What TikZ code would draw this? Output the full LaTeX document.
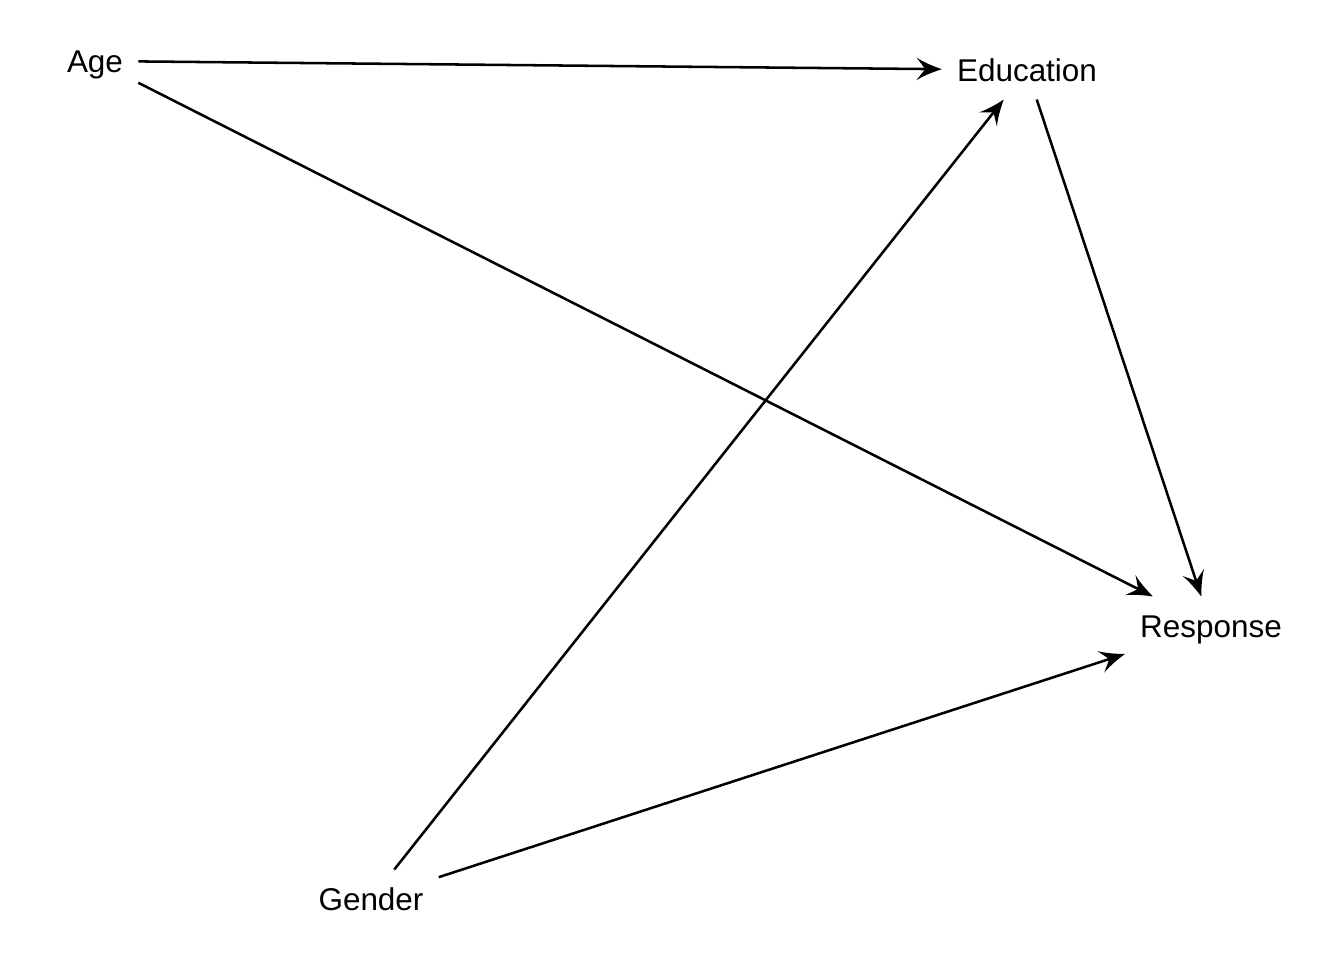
\documentclass[tikz,border=0pt]{standalone}
\usepackage{fontspec}
\setmainfont{Liberation Sans}
\usetikzlibrary{arrows.meta}
\pgfdeclarearrow{
  name=CurvedStealth,
  parameters={\the\pgfarrowlength,\the\pgfarrowwidth},
  setup code={
    \pgfarrowssettipend{0pt}
    \pgfarrowssetlineend{-0.5\pgfarrowlength}
    \pgfarrowssetbackend{-\pgfarrowlength}
    \pgfarrowssavethe\pgfarrowlength
    \pgfarrowssavethe\pgfarrowwidth
  },
  drawing code={
    \pgfpathmoveto{\pgfpoint{0pt}{0pt}}
    \pgfpathcurveto{\pgfpoint{-0.4\pgfarrowlength}{0.15\pgfarrowwidth}}{\pgfpoint{-0.75\pgfarrowlength}{0.32\pgfarrowwidth}}{\pgfpoint{-\pgfarrowlength}{0.5\pgfarrowwidth}}
    \pgfpathlineto{\pgfpoint{-0.65\pgfarrowlength}{0pt}}
    \pgfpathlineto{\pgfpoint{-\pgfarrowlength}{-0.5\pgfarrowwidth}}
    \pgfpathcurveto{\pgfpoint{-0.75\pgfarrowlength}{-0.32\pgfarrowwidth}}{\pgfpoint{-0.4\pgfarrowlength}{-0.15\pgfarrowwidth}}{\pgfpoint{0pt}{0pt}}
    \pgfpathclose
    \pgfusepathqfill
  },
  defaults={length=15pt,width=14pt}
}
\begin{document}
\begin{tikzpicture}[x=0.75pt,y=-0.75pt,
  var/.style={font=\fontsize{23.6pt}{28pt}\selectfont, text height=16.9pt, text depth=0pt,
    inner xsep=11.25pt, inner ysep=13.5pt},
  edge/.style={line width=1.9pt, -{CurvedStealth[length=19pt,width=17pt]}}]
\useasboundingbox (0,0) rectangle (1344,960);
\node[var] (age) at (95,61) {Age};
\node[var] (edu) at (1027,70) {Education};
\node[var] (resp) at (1211,626) {Response};
\node[var] (gen) at (371,899) {Gender};
\draw[edge] (age) -- (edu);
\draw[edge] (age) -- (resp);
\draw[edge] (edu) -- (resp);
\draw[edge] (gen) -- (edu);
\draw[edge] (gen) -- (resp);
\end{tikzpicture}
\end{document}
